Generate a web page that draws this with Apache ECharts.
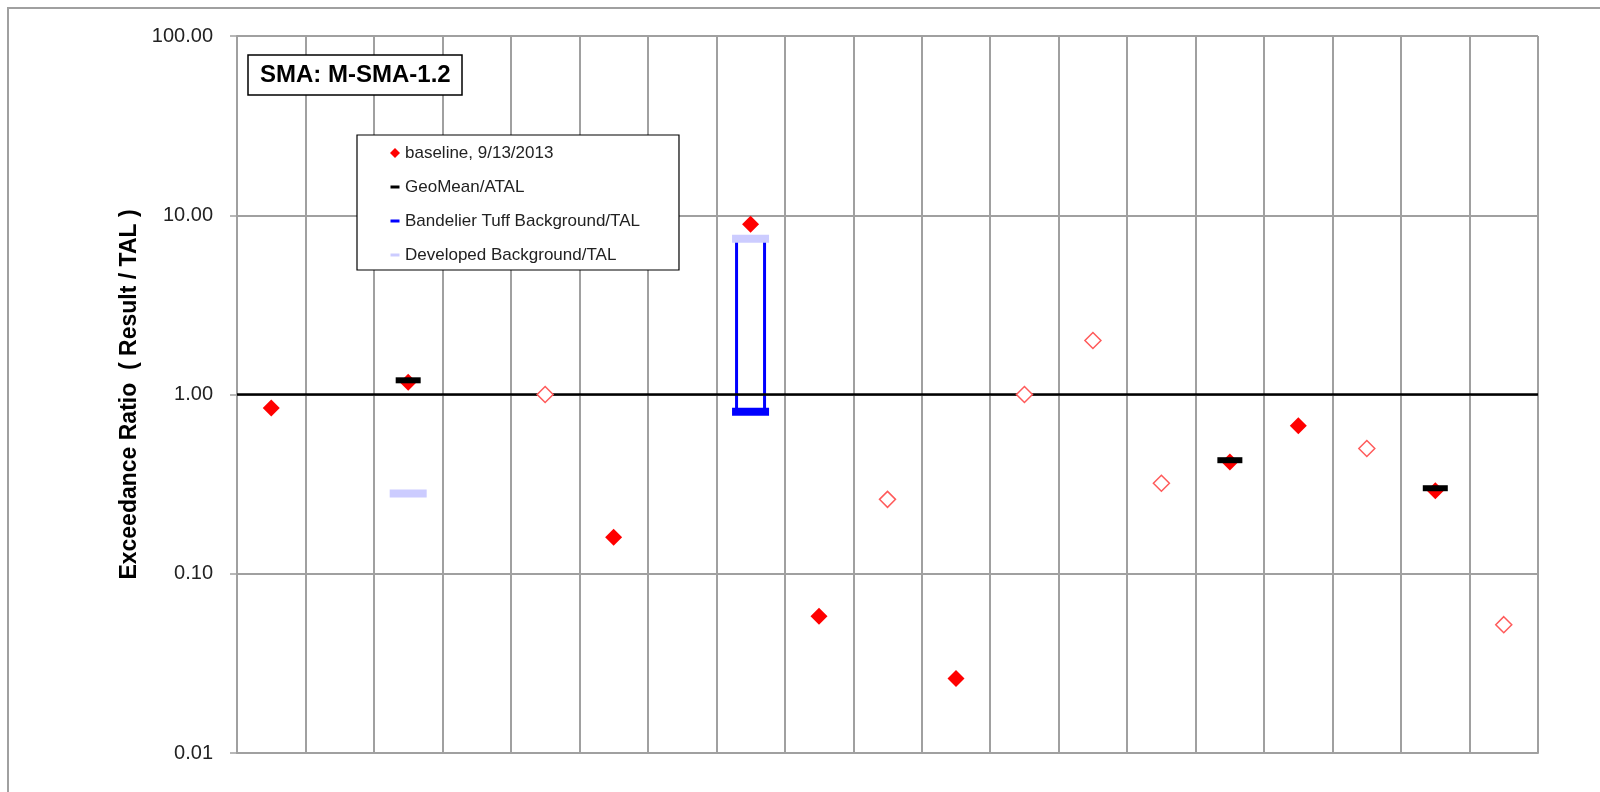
<!DOCTYPE html>
<html>
<head>
<meta charset="utf-8">
<script src="https://cdn.jsdelivr.net/npm/echarts@6/dist/echarts.min.js"></script>
<style>
html,body{margin:0;padding:0;background:#fff;}
#chart{width:1600px;height:792px;}
</style>
</head>
<body>
<div id="chart"></div>
<script>
// ---- data ----
const categories = ['1','2','3','4','5','6','7','8','9','10','11','12','13','14','15','16','17','18','19'];
// baseline results (detects, filled diamonds)
const baselineDetect = [0.84, null, 1.17, null, null, 0.16, null, 8.9, 0.058, null, 0.026, null, null, null, 0.42, 0.67, null, 0.29, null];
// baseline results (non-detects, open diamonds)
const baselineNonDetect = [null, null, null, null, 1.0, null, null, null, null, 0.26, null, 1.0, 2.0, 0.32, null, null, 0.5, null, 0.052];
const geoMean = [null, null, 1.2, null, null, null, null, null, null, null, null, null, null, null, 0.43, null, null, 0.30, null];
const bandelierBg = [null, null, null, null, null, null, null, 0.8, null, null, null, null, null, null, null, null, null, null, null];
const developedBg = [null, null, 0.28, null, null, null, null, 7.4, null, null, null, null, null, null, null, null, null, null, null];
const referenceRatio = 1.0;
const yTicks = [0.01, 0.1, 1, 10, 100];

const boxData = [];
for (let i = 0; i < categories.length; i++) {
  if (bandelierBg[i] != null && developedBg[i] != null) boxData.push([i, bandelierBg[i], developedBg[i]]);
}

const chart = echarts.init(document.getElementById('chart'), null, {renderer: 'canvas'});
const FONT = 'Liberation Sans';
const lineIcon = 'path://M0,0M10,10M0.5,3.5L9.5,3.5L9.5,6.5L0.5,6.5Z';

chart.setOption({
  animation: false,
  textStyle: {fontFamily: FONT},
  graphic: [{
    type: 'rect', silent: true, z: -10,
    shape: {x: 8, y: 8, width: 1700, height: 900},
    style: {fill: 'none', stroke: '#a0a0a0', lineWidth: 2}
  }],
  title: {
    text: 'SMA: M-SMA-1.2',
    left: 248, top: 55,
    padding: [8, 12, 8, 12],
    borderColor: '#000', borderWidth: 1.5, backgroundColor: '#fff',
    textStyle: {fontFamily: FONT, fontWeight: 'bold', fontSize: 24, color: '#000'}
  },
  legend: {
    orient: 'vertical',
    left: 357, top: 135,
    padding: [9.5, 39, 6.5, 33],
    itemGap: 17,
    itemWidth: 10, itemHeight: 10,
    backgroundColor: '#fff', borderColor: '#000', borderWidth: 1.2,
    textStyle: {fontFamily: FONT, fontSize: 17, color: '#222'},
    data: [
      {name: 'baseline, 9/13/2013', icon: 'diamond'},
      {name: 'GeoMean/ATAL', icon: lineIcon},
      {name: 'Bandelier Tuff Background/TAL', icon: lineIcon},
      {name: 'Developed Background/TAL', icon: lineIcon}
    ],
    selectedMode: false
  },
  grid: {left: 237, top: 36, right: 62, bottom: 39, containLabel: false},
  xAxis: {
    type: 'category', data: categories, boundaryGap: true,
    axisLine: {show: true, lineStyle: {color: '#a0a0a0', width: 2}},
    axisTick: {show: false}, axisLabel: {show: false},
    splitLine: {show: true, lineStyle: {color: '#a0a0a0', width: 2}}
  },
  yAxis: {
    type: 'log', logBase: 10, min: yTicks[0], max: yTicks[yTicks.length - 1],
    name: 'Exceedance Ratio  ( Result / TAL )',
    nameLocation: 'middle', nameGap: 79,
    nameTextStyle: {fontFamily: FONT, fontWeight: 'bold', fontSize: 23, color: '#000'},
    axisLine: {show: true, lineStyle: {color: '#a0a0a0', width: 2}},
    axisTick: {show: true, inside: false, length: 7, lineStyle: {color: '#a0a0a0', width: 1.5}},
    axisLabel: {margin: 24, fontSize: 20, color: '#222', fontFamily: FONT,
      formatter: v => Number(v).toFixed(2)},
    splitLine: {show: true, lineStyle: {color: '#a0a0a0', width: 2}}
  },
  series: [
    {
      name: 'Bandelier box', type: 'custom', z: 2,
      encode: {x: 0, y: [1, 2]},
      data: boxData,
      renderItem: function (params, api) {
        const lo = api.coord([api.value(0), api.value(1)]);
        const hi = api.coord([api.value(0), api.value(2)]);
        const half = 14;
        const st = {stroke: '#0000ff', lineWidth: 3};
        return {type: 'group', children: [
          {type: 'line', shape: {x1: lo[0] - half, y1: lo[1], x2: lo[0] - half, y2: hi[1]}, style: st},
          {type: 'line', shape: {x1: lo[0] + half, y1: lo[1], x2: lo[0] + half, y2: hi[1]}, style: st}
        ]};
      }
    },
    {
      name: 'Developed Background/TAL', type: 'scatter', z: 3,
      symbol: 'rect', symbolSize: [37, 8],
      itemStyle: {color: '#ccccff', opacity: 1},
      data: developedBg
    },
    {
      name: 'Bandelier Tuff Background/TAL', type: 'scatter', z: 4,
      symbol: 'rect', symbolSize: [37, 8],
      itemStyle: {color: '#0000ff', opacity: 1},
      data: bandelierBg
    },
    {
      name: 'baseline ND', type: 'scatter', z: 5,
      symbol: 'diamond', symbolSize: 16,
      itemStyle: {color: '#ffffff', borderColor: '#ff5a5a', borderWidth: 1.5, opacity: 1},
      data: baselineNonDetect
    },
    {
      name: 'baseline, 9/13/2013', type: 'scatter', z: 6,
      symbol: 'diamond', symbolSize: 17,
      itemStyle: {color: '#ff0000', opacity: 1},
      data: baselineDetect,
      markLine: {
        silent: true, symbol: 'none',
        label: {show: false},
        lineStyle: {color: '#000', width: 2.5, type: 'solid'},
        data: [{yAxis: referenceRatio}]
      }
    },
    {
      name: 'GeoMean/ATAL', type: 'scatter', z: 7,
      symbol: 'rect', symbolSize: [25, 6],
      itemStyle: {color: '#000000', opacity: 1},
      data: geoMean
    }
  ]
});
</script>
</body>
</html>
